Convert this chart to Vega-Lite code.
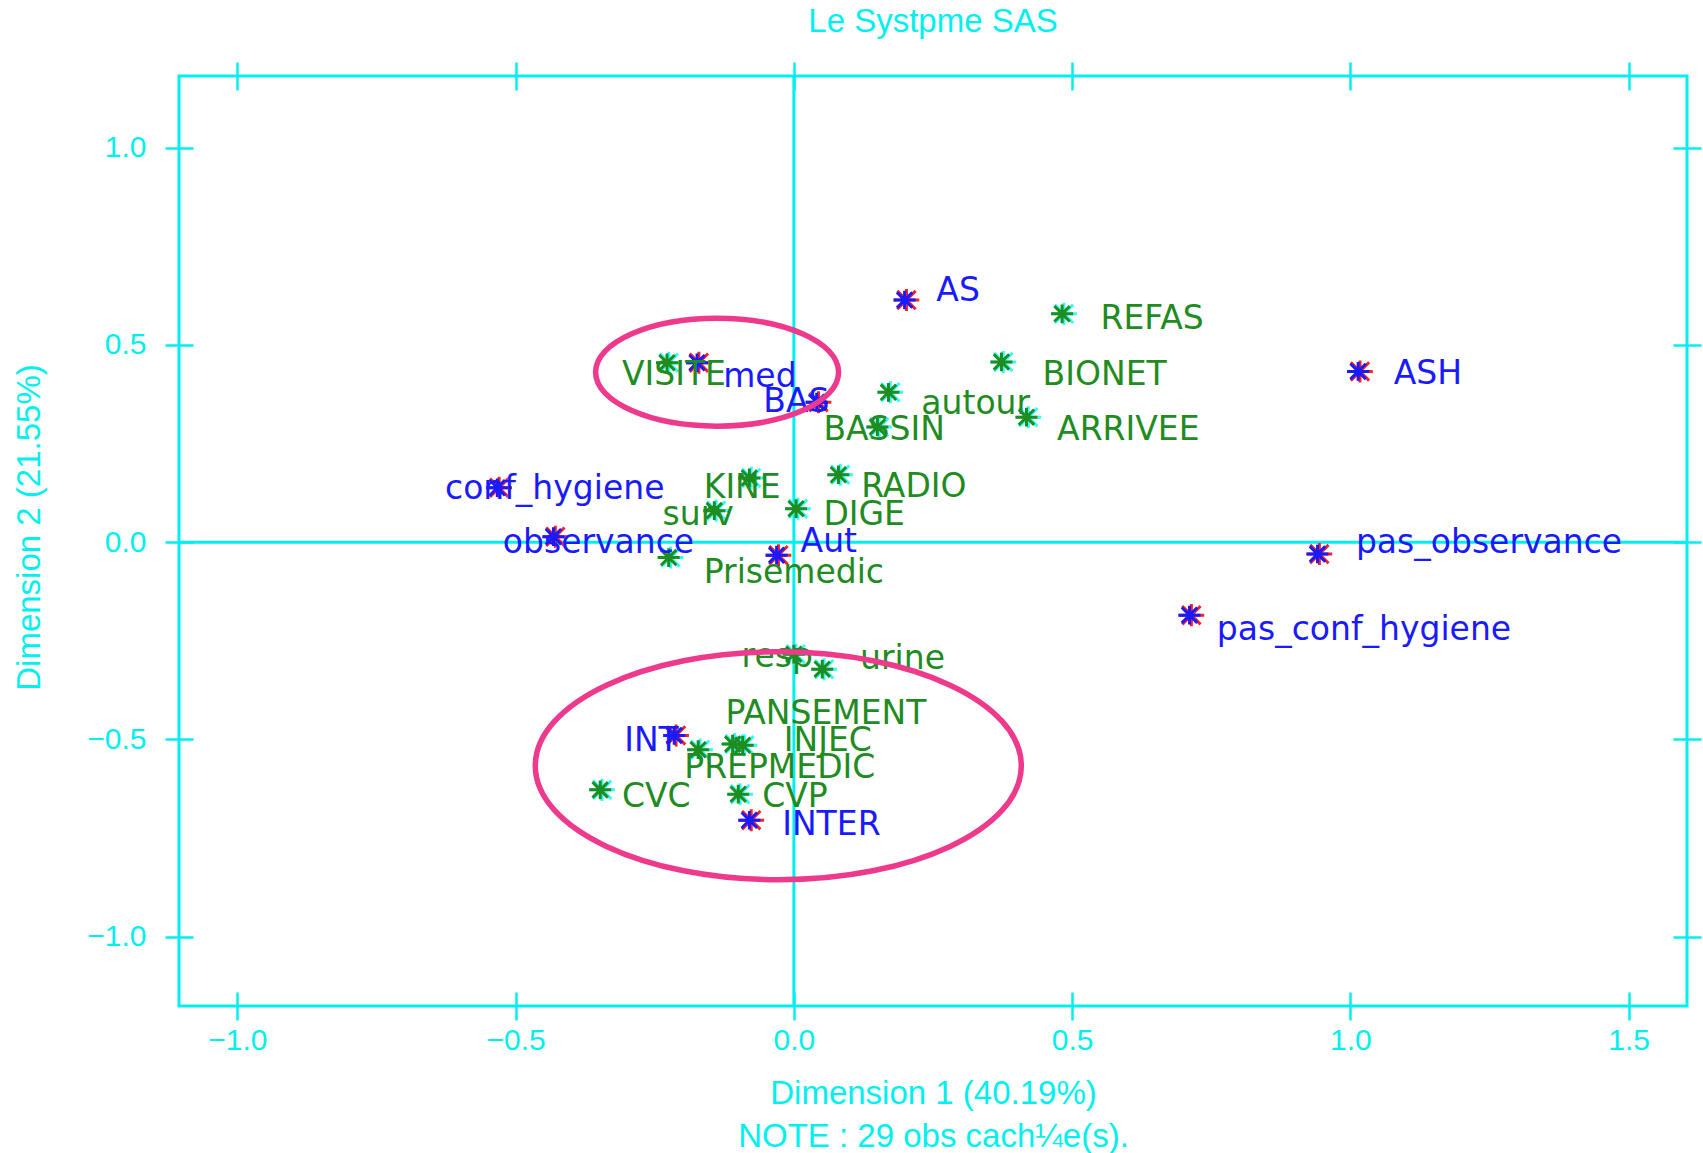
{
  "$schema": "https://vega.github.io/schema/vega-lite/v6.json",
  "width": 1508,
  "height": 930,
  "autosize": "none",
  "padding": {"left": 179, "top": 76, "right": 16, "bottom": 147},
  "background": "white",
  "title": {
    "text": "Le Systpme SAS",
    "color": "#00f0f0",
    "font": "Liberation Sans",
    "fontSize": 33,
    "fontWeight": "normal",
    "anchor": "middle",
    "frame": "group",
    "baseline": "alphabetic",
    "offset": -4
  },
  "config": {
    "view": {"stroke": "#00f0f0", "strokeWidth": 3},
    "axis": {
      "domain": false,
      "grid": false,
      "offset": -14,
      "tickSize": 28,
      "tickWidth": 2.5,
      "tickColor": "#00f0f0",
      "labelColor": "#00f0f0",
      "labelFont": "Liberation Sans",
      "labelFontSize": 30,
      "titleColor": "#00f0f0",
      "titleFont": "Liberation Sans",
      "titleFontSize": 33,
      "titleFontWeight": "normal"
    }
  },
  "datasets": {
    "pts": [
      {"name": "AS", "type": "s", "x": 0.199, "y": 0.614, "lx": 0.256, "ly": 0.636},
      {"name": "ASH", "type": "s", "x": 1.014, "y": 0.433, "lx": 1.078, "ly": 0.427},
      {"name": "pas_observance", "type": "s", "x": 0.941, "y": -0.03, "lx": 1.01, "ly": -0.003},
      {"name": "pas_conf_hygiene", "type": "s", "x": 0.711, "y": -0.185, "lx": 0.76, "ly": -0.223},
      {"name": "conf_hygiene", "type": "s", "x": -0.533, "y": 0.138, "lx": -0.627, "ly": 0.135},
      {"name": "observance", "type": "s", "x": -0.432, "y": 0.014, "lx": -0.523, "ly": -0.003},
      {"name": "Aut", "type": "s", "x": -0.031, "y": -0.033, "lx": 0.012, "ly": 0.0},
      {"name": "INT", "type": "s", "x": -0.215, "y": -0.49, "lx": -0.305, "ly": -0.504},
      {"name": "INTER", "type": "s", "x": -0.08, "y": -0.705, "lx": -0.021, "ly": -0.716},
      {"name": "BAS", "type": "s", "x": 0.041, "y": 0.355, "lx": -0.055, "ly": 0.355},
      {"name": "med", "type": "s", "x": -0.174, "y": 0.455, "lx": -0.127, "ly": 0.419},
      {"name": "REFAS", "type": "a", "x": 0.482, "y": 0.579, "lx": 0.551, "ly": 0.567},
      {"name": "BIONET", "type": "a", "x": 0.373, "y": 0.457, "lx": 0.447, "ly": 0.424},
      {"name": "autour", "type": "a", "x": 0.17, "y": 0.38, "lx": 0.229, "ly": 0.35},
      {"name": "ARRIVEE", "type": "a", "x": 0.418, "y": 0.317, "lx": 0.473, "ly": 0.284},
      {"name": "BASSIN", "type": "a", "x": 0.15, "y": 0.292, "lx": 0.053, "ly": 0.284},
      {"name": "VISITE", "type": "a", "x": -0.228, "y": 0.455, "lx": -0.309, "ly": 0.424},
      {"name": "KINE", "type": "a", "x": -0.08, "y": 0.163, "lx": -0.162, "ly": 0.138},
      {"name": "RADIO", "type": "a", "x": 0.08, "y": 0.171, "lx": 0.121, "ly": 0.14},
      {"name": "surv", "type": "a", "x": -0.143, "y": 0.08, "lx": -0.236, "ly": 0.069},
      {"name": "DIGE", "type": "a", "x": 0.004, "y": 0.085, "lx": 0.053, "ly": 0.069},
      {"name": "Prisemedic", "type": "a", "x": -0.225, "y": -0.039, "lx": -0.162, "ly": -0.077},
      {"name": "resp", "type": "a", "x": 0.0, "y": -0.284, "lx": -0.094, "ly": -0.292},
      {"name": "urine", "type": "a", "x": 0.051, "y": -0.322, "lx": 0.119, "ly": -0.295},
      {"name": "PANSEMENT", "type": "a", "x": -0.11, "y": -0.512, "lx": -0.123, "ly": -0.435},
      {"name": "INJEC", "type": "a", "x": -0.092, "y": -0.515, "lx": -0.018, "ly": -0.504},
      {"name": "PREPMEDIC", "type": "a", "x": -0.172, "y": -0.526, "lx": -0.197, "ly": -0.573},
      {"name": "CVC", "type": "a", "x": -0.348, "y": -0.628, "lx": -0.309, "ly": -0.645},
      {"name": "CVP", "type": "a", "x": -0.1, "y": -0.639, "lx": -0.057, "ly": -0.645}
    ]
  },
  "layer": [
    {
      "data": {"values": [{"v": 0}]},
      "mark": {"type": "rule", "color": "#00f0f0", "strokeWidth": 3},
      "encoding": {
        "x": {"field": "v", "type": "quantitative", "scale": {"domain": [-1.105, 1.605], "nice": false, "zero": false}, "axis": null}
      }
    },
    {
      "data": {"values": [{"v": 0}]},
      "mark": {"type": "rule", "color": "#00f0f0", "strokeWidth": 3},
      "encoding": {
        "y": {"field": "v", "type": "quantitative", "scale": {"domain": [-1.176, 1.182], "nice": false, "zero": false}, "axis": null}
      }
    },
    {
      "data": {"name": "pts"},
      "mark": {
        "type": "point",
        "shape": "M-0.9,0L1.2,0M0.15,-0.9L0.15,0.9M-0.6,-0.75L0.9,0.75M-0.6,0.75L0.9,-0.75",
        "size": 600,
        "filled": false,
        "strokeWidth": 3,
        "opacity": 1
      },
      "encoding": {
        "x": {"field": "x", "type": "quantitative", "scale": {"domain": [-1.105, 1.605], "nice": false, "zero": false}, "axis": null},
        "y": {"field": "y", "type": "quantitative", "scale": {"domain": [-1.176, 1.182], "nice": false, "zero": false}, "axis": null},
        "stroke": {"condition": {"test": "datum.type === 's'", "value": "#ff2020"}, "value": "#30ffff"}
      }
    },
    {
      "data": {"name": "pts"},
      "mark": {
        "type": "point",
        "shape": "M-1,0L1,0M0,-0.85L0,0.85M-0.7,-0.7L0.7,0.7M-0.7,0.7L0.7,-0.7",
        "size": 484,
        "filled": false,
        "strokeWidth": 3,
        "opacity": 1
      },
      "encoding": {
        "x": {
          "field": "x", "type": "quantitative",
          "scale": {"domain": [-1.105, 1.605], "nice": false, "zero": false},
          "axis": {"orient": "top", "values": [-1, -0.5, 0, 0.5, 1, 1.5], "labels": false, "title": null}
        },
        "y": {
          "field": "y", "type": "quantitative",
          "scale": {"domain": [-1.176, 1.182], "nice": false, "zero": false},
          "axis": {"orient": "right", "values": [-1, -0.5, 0, 0.5, 1], "labels": false, "title": null}
        },
        "stroke": {"condition": {"test": "datum.type === 's'", "value": "#1a1aff"}, "value": "#1f8c1f"}
      }
    },
    {
      "data": {"name": "pts"},
      "mark": {"type": "text", "align": "left", "baseline": "middle", "font": "DejaVu Sans", "fontSize": 33},
      "encoding": {
        "x": {
          "field": "lx", "type": "quantitative",
          "scale": {"domain": [-1.105, 1.605], "nice": false, "zero": false},
          "axis": {
            "orient": "bottom", "values": [-1, -0.5, 0, 0.5, 1, 1.5], "format": ".1f",
            "labelPadding": 5,
            "title": ["Dimension 1 (40.19%)", "NOTE : 29 obs cach¼e(s)."],
            "titlePadding": 22, "titleLineHeight": 43
          }
        },
        "y": {
          "field": "ly", "type": "quantitative",
          "scale": {"domain": [-1.176, 1.182], "nice": false, "zero": false},
          "axis": {
            "orient": "left", "values": [-1, -0.5, 0, 0.5, 1], "format": ".1f",
            "labelPadding": 19,
            "title": "Dimension 2 (21.55%)",
            "titlePadding": 40, "titleY": 451
          }
        },
        "text": {"field": "name"},
        "color": {"condition": {"test": "datum.type === 's'", "value": "#1a1aff"}, "value": "#1f8c1f"}
      }
    },
    {
      "data": {"values": [{"x": -0.138, "y": 0.431}]},
      "mark": {
        "type": "point",
        "shape": "M-1,0C-1,-0.245,-0.552,-0.444,0,-0.444C0.552,-0.444,1,-0.245,1,0C1,0.245,0.552,0.444,0,0.444C-0.552,0.444,-1,0.245,-1,0Z",
        "size": 59049,
        "filled": false,
        "stroke": "#ee3a8c",
        "strokeWidth": 5.5,
        "opacity": 1
      },
      "encoding": {
        "x": {"field": "x", "type": "quantitative", "scale": {"domain": [-1.105, 1.605], "nice": false, "zero": false}, "axis": null},
        "y": {"field": "y", "type": "quantitative", "scale": {"domain": [-1.176, 1.182], "nice": false, "zero": false}, "axis": null}
      }
    },
    {
      "data": {"values": [{"x": -0.028, "y": -0.567}]},
      "mark": {
        "type": "point",
        "shape": "M-1,0C-1,-0.259,-0.552,-0.469,0,-0.469C0.552,-0.469,1,-0.259,1,0C1,0.259,0.552,0.469,0,0.469C-0.552,0.469,-1,0.259,-1,0Z",
        "size": 236196,
        "filled": false,
        "stroke": "#ee3a8c",
        "strokeWidth": 5.5,
        "opacity": 1
      },
      "encoding": {
        "x": {"field": "x", "type": "quantitative", "scale": {"domain": [-1.105, 1.605], "nice": false, "zero": false}, "axis": null},
        "y": {"field": "y", "type": "quantitative", "scale": {"domain": [-1.176, 1.182], "nice": false, "zero": false}, "axis": null}
      }
    }
  ]
}
